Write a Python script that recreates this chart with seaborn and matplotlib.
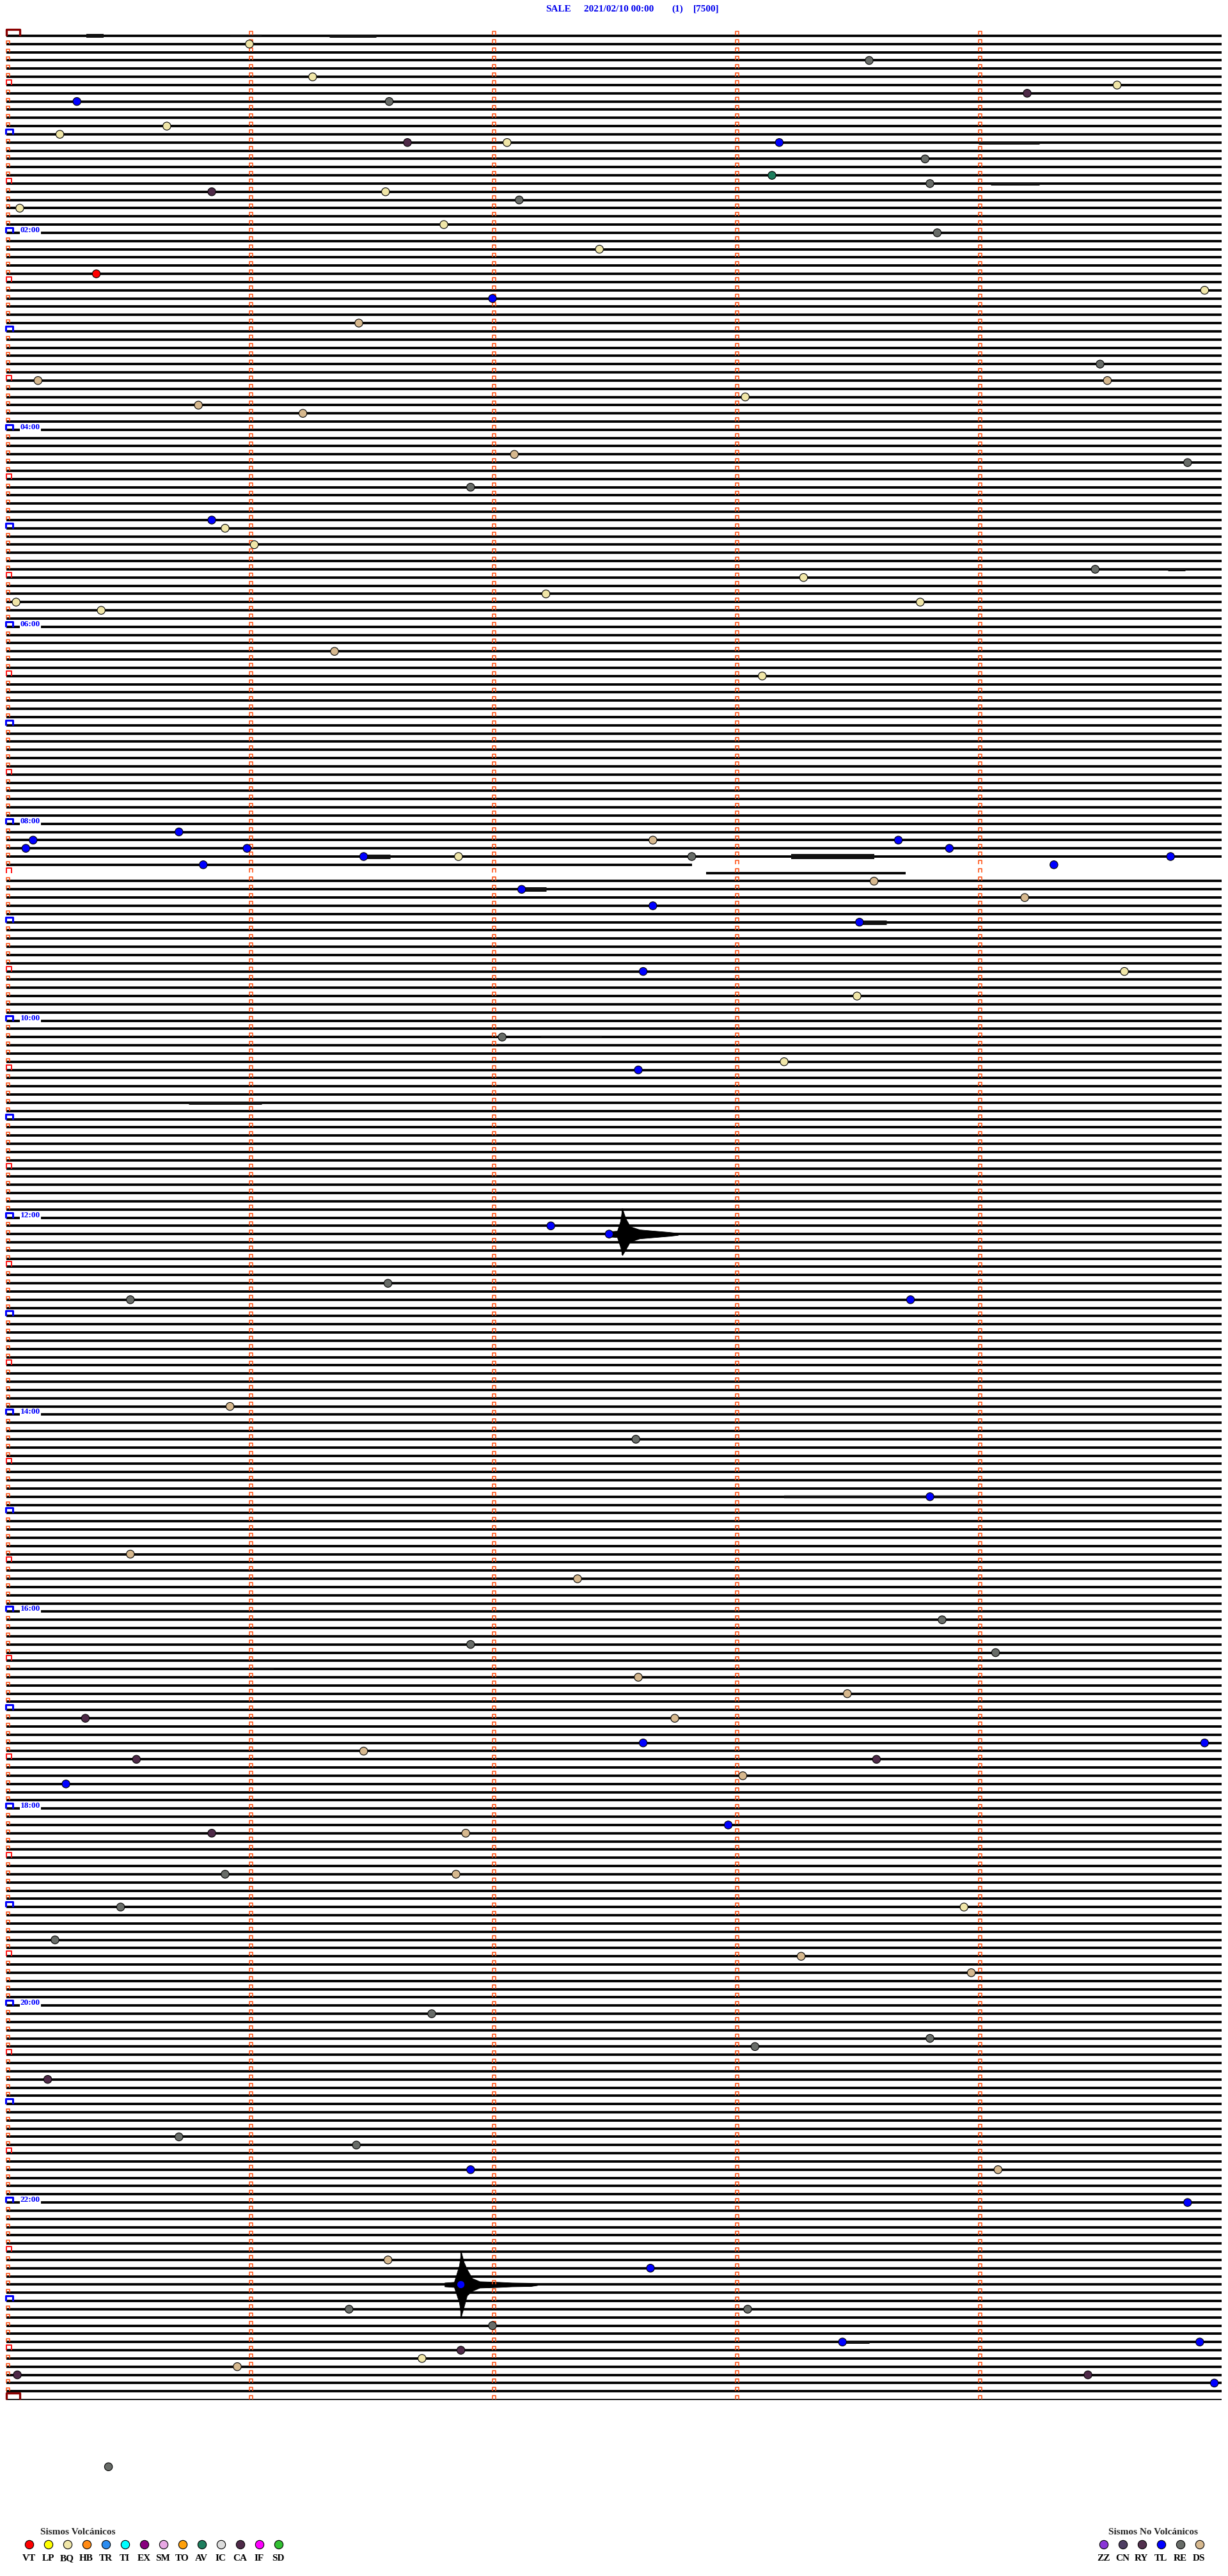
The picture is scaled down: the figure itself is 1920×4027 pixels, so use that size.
import numpy as np
import pandas as pd
import matplotlib
matplotlib.use("Agg")
import matplotlib.pyplot as plt
import seaborn as sns
from matplotlib.collections import LineCollection

# ---------------- data ----------------
station = "SALE"
date_txt = "2021/02/10 00:00"
comp_txt = "(1)"
gain_txt = "[7500]"

minutes_per_row = 5
n_rows = 289                     # 00:00 ... 24:00, one trace every 5 minutes
hour_labels = ["02:00", "04:00", "06:00", "08:00", "10:00", "12:00",
               "14:00", "16:00", "18:00", "20:00", "22:00"]

volc_types = ["VT", "LP", "BQ", "HB", "TR", "TI", "EX", "SM", "TO", "AV", "IC", "CA", "IF", "SD"]
volc_colors = ["#ff0000", "#ffff00", "#f0e6a8", "#ff8a14", "#2a8cf0", "#00ffff", "#88007e",
               "#e8a8e4", "#ffa00a", "#1e7e5e", "#dcdcdc", "#4e2a48", "#ff00ff", "#32c032"]
nonvolc_types = ["ZZ", "CN", "RY", "TL", "RE", "DS"]
nonvolc_colors = ["#8a36d6", "#4e3e62", "#52304e", "#0000ff", "#686c68", "#d6b88e"]

# events: trace row, offset inside the row (minutes), type
ev_row = [1, 3, 5, 8, 7, 8, 6, 11, 12, 13, 13, 13, 15, 17, 18, 19, 19, 20, 21, 23,
          24, 26, 29, 31, 32, 35, 40, 42, 42, 44, 45, 46, 51, 52, 55, 59, 60, 62, 65, 66,
          68, 69, 69, 70, 75, 78, 98, 99, 97, 99, 101, 100, 100, 98, 100, 98, 99, 101, 100, 103,
          104, 106, 105, 108, 114, 114, 117, 122, 125, 126, 145, 146, 152, 154, 154, 167, 171, 178, 185, 188,
          193, 196, 197, 200, 202, 205, 205, 208, 208, 209, 210, 210, 212, 213, 218, 219, 219, 224, 224, 228,
          228, 232, 234, 236, 241, 244, 245, 249, 256, 257, 260, 260, 264, 271, 272, 274, 277, 277, 279, 282,
          283, 284, 281, 281, 285, 285, 286, 296.2]
ev_offset = [1.00, 3.55, 1.26, 0.29, 4.20, 1.575, 4.57, 0.66, 0.22, 1.65, 2.06, 3.18, 3.78, 3.15, 3.80, 0.845, 1.56, 2.11, 0.055, 1.80,
             3.83, 2.44, 0.37, 4.93, 2.00, 1.45, 4.50, 4.53, 0.13, 3.04, 0.79, 1.22, 2.09, 4.86, 1.91, 0.845, 0.90, 1.02, 4.48, 3.28,
             2.22, 3.76, 0.04, 0.39, 1.35, 3.11, 0.11, 0.08, 0.71, 0.99, 0.81, 1.47, 1.86, 2.66, 2.82, 3.67, 3.88, 4.31, 4.79, 3.57,
             2.12, 2.66, 4.19, 3.51, 2.62, 4.60, 3.50, 2.04, 3.20, 2.60, 2.24, 2.48, 1.57, 0.51, 3.72, 0.92, 2.59, 3.80, 0.51, 2.35,
             3.85, 1.91, 4.07, 2.60, 3.46, 0.325, 2.75, 2.62, 4.93, 1.47, 0.535, 3.58, 3.03, 0.245, 2.97, 0.845, 1.89, 0.90, 1.85, 0.47,
             3.94, 0.20, 3.27, 3.97, 1.75, 3.80, 3.08, 0.17, 0.71, 1.44, 1.91, 4.08, 4.86, 1.57, 2.65, 1.87, 1.41, 3.05, 2.00, 1.87,
             1.71, 0.95, 3.44, 4.91, 4.45, 0.045, 4.97, 0.42]
ev_type = ["BQ", "RE", "BQ", "TL", "CA", "RE", "BQ", "BQ", "BQ", "CA", "BQ", "TL", "RE", "AV", "RE", "CA", "BQ", "RE", "BQ", "BQ",
           "RE", "BQ", "VT", "BQ", "TL", "DS", "RE", "DS", "DS", "BQ", "DS", "DS", "DS", "RE", "RE", "TL", "BQ", "BQ", "RE", "BQ",
           "BQ", "BQ", "BQ", "BQ", "DS", "BQ", "TL", "TL", "TL", "TL", "TL", "TL", "BQ", "DS", "RE", "TL", "TL", "TL", "TL", "DS",
           "TL", "TL", "DS", "TL", "TL", "BQ", "BQ", "RE", "BQ", "TL", "TL", "TL", "RE", "RE", "TL", "DS", "RE", "TL", "DS", "DS",
           "RE", "RE", "RE", "DS", "DS", "CA", "DS", "TL", "TL", "DS", "CA", "CA", "DS", "TL", "TL", "CA", "DS", "RE", "DS", "RE",
           "BQ", "RE", "DS", "DS", "RE", "RE", "RE", "CA", "RE", "RE", "TL", "DS", "TL", "DS", "TL", "TL", "RE", "RE", "RE", "CA",
           "BQ", "DS", "TL", "TL", "CA", "CA", "TL", "RE"]

# gaps in the record: rows with only partial traces (row, start, end in minutes)
partial_row = [101, 102]
partial_start = [0.0, 2.88]
partial_end = [2.82, 3.70]

# bursts of higher amplitude (row, start, end, half amplitude of the dense core in px)
burst_row = [0, 0, 0, 13, 18, 65, 100, 100, 104, 108, 122, 130, 178, 199, 281]
burst_start = [0.33, 0.92, 1.33, 4.00, 4.05, 4.78, 1.48, 3.23, 2.13, 3.52, 2.20, 0.75, 3.20, 1.00, 3.45]
burst_end = [0.40, 1.05, 1.52, 4.25, 4.25, 4.85, 1.58, 3.57, 2.22, 3.62, 2.45, 1.05, 4.00, 1.10, 3.55]
burst_amp = [3.0, 2.0, 2.5, 2.5, 2.5, 2.5, 3.5, 4.0, 3.5, 3.5, 2.0, 2.5, 2.2, 2.0, 2.5]

# two large earthquakes: envelope (offset in minutes, px above, px below)
big1_row = 146
big1_x = [2.476, 2.513, 2.526, 2.534, 2.547, 2.566, 2.605, 2.729, 2.763]
big1_up = [4, 5, 20, 40, 25, 12, 7, 3, 1.5]
big1_dn = [4, 5, 20, 33, 25, 12, 7, 3, 1.5]
big2_row = 274
big2_x = [1.803, 1.842, 1.863, 1.871, 1.882, 1.895, 1.916, 1.947, 2.026, 2.079, 2.158, 2.184]
big2_up = [3, 4, 30, 51, 35, 24, 10, 5, 4, 3, 2.5, 1]
big2_dn = [3, 4, 28, 50, 35, 17, 10, 5, 4, 3, 2.5, 1]

# ---------------- geometry ----------------
W, H = 1920, 4027
X0, X1 = 10, 1910           # pixel range of one 5-minute trace
Y0, DY = 56, 12.83          # first trace pixel row, trace spacing
pxx = minutes_per_row / (X1 - X0)   # minutes per pixel
pxy = 1.0 / DY                      # rows per pixel
PT = 0.72                           # points per pixel at 100 dpi
TRACE_PX = 3.8

sns.set_theme(style="white")
plt.rcParams["font.family"] = ["Liberation Serif", "DejaVu Serif"]

fig = plt.figure(figsize=(W / 100, H / 100), dpi=100)
fig.patch.set_facecolor("white")
ax = fig.add_axes([X0 / W, 0, (X1 - X0) / W, 1])
ax.set_xlim(0, minutes_per_row)
ax.set_ylim((H - Y0) / DY, -Y0 / DY)
ax.axis("off")

# ---- traces ----
segs, lws = [], []
for r in range(n_rows):
    if r in partial_row:
        continue
    segs.append([(0, r), (minutes_per_row, r)])
    lws.append(1.3 if r == n_rows - 1 else TRACE_PX * PT)
for r, s, e in zip(partial_row, partial_start, partial_end):
    segs.append([(s, r), (e, r)])
    lws.append(TRACE_PX * PT)
ax.add_collection(LineCollection(segs, colors="black", linewidths=lws, zorder=2, capstyle="butt"))

# bursts
bsegs = [[(s, r), (e, r)] for r, s, e in zip(burst_row, burst_start, burst_end)]
blw = [2 * a * PT for a in burst_amp]
ax.add_collection(LineCollection(bsegs, colors="#111111", linewidths=blw, zorder=2, capstyle="butt"))

# big earthquakes
for row, xs, up, dn in [(big1_row, big1_x, big1_up, big1_dn), (big2_row, big2_x, big2_up, big2_dn)]:
    xs = np.array(xs)
    ax.fill_between(xs, row - np.array(up) * pxy, row + np.array(dn) * pxy, color="black", lw=0.6, zorder=2)
    k = int(np.argmax(up))
    ax.vlines(xs[k], row - up[k] * pxy, row + dn[k] * pxy, color="black", lw=1.5, zorder=2)

# ---- row markers (left brackets) and minute ticks ----
def bracket(x, r, w, h):
    return [(x, r), (x, r - h * pxy), (x + w * pxx, r - h * pxy), (x + w * pxx, r)]

small, red, blue, dred = [], [], [], []
for r in range(n_rows):
    if r == 0 or r == n_rows - 1:
        dred.append(bracket(-0.5 * pxx, r, 21, 10))
    elif r % 12 == 0:
        blue.append(bracket(-1 * pxx, r, 11, 8))
    elif r % 6 == 0:
        red.append(bracket(0, r, 8, 8))
    else:
        small.append(bracket(0, r, 5, 5))
    for m in range(1, minutes_per_row):
        small.append(bracket(m, r - 0.5 * pxy, 5, 6))
ax.add_collection(LineCollection(small, colors="#ff4a0a", linewidths=1.1, zorder=3))
ax.add_collection(LineCollection(red, colors="#ff1010", linewidths=1.4, zorder=3))
ax.add_collection(LineCollection(blue, colors="#0000ff", linewidths=2.2, zorder=3))
ax.add_collection(LineCollection(dred, colors="#8b0000", linewidths=2.4, zorder=3))
for c in ax.collections:
    c.set_clip_on(False)

# hour labels
for i, lab in enumerate(hour_labels):
    r = (i + 1) * 24
    ax.text(22 * pxx, r - 1 * pxy, lab, color="#0000ff", fontsize=9.6, fontweight="bold",
            va="baseline", ha="left", zorder=4,
            bbox=dict(facecolor="white", edgecolor="none", pad=0.6))

# ---- events ----
ev = pd.DataFrame({"row": ev_row, "offset": ev_offset, "type": ev_type})
palette = dict(zip(volc_types + nonvolc_types, volc_colors + nonvolc_colors))
sns.scatterplot(data=ev, x="offset", y="row", hue="type", palette=palette, s=80,
                edgecolor="black", linewidth=0.8, legend=False, ax=ax, zorder=5, clip_on=False)
ax.set_xlim(0, minutes_per_row)
ax.set_ylim((H - Y0) / DY, -Y0 / DY)
ax.axis("off")

# ---- title ----
for txt, x in [(station, 853), (date_txt, 913), (comp_txt, 1050), (gain_txt, 1084)]:
    fig.text(x / W, 1 - 18 / H, txt, color="#0000ee", fontsize=11, fontweight="bold",
             ha="left", va="baseline")

# ---- legend ----
lg = fig.add_axes([0, 0, 1, 1], zorder=-1)
lg.set_xlim(0, W)
lg.set_ylim(H, 0)
lg.axis("off")
leg = pd.DataFrame({
    "x": [46 + 30 * i for i in range(len(volc_types))] + [1726 + 30 * i for i in range(len(nonvolc_types))],
    "y": [3978] * (len(volc_types) + len(nonvolc_types)),
    "type": volc_types + nonvolc_types})
sns.scatterplot(data=leg, x="x", y="y", hue="type", palette=palette, s=92,
                edgecolor="black", linewidth=0.8, legend=False, ax=lg)
lg.set_xlim(0, W)
lg.set_ylim(H, 0)
lg.axis("off")
for x, t in zip(leg["x"], leg["type"]):
    lg.text(x - 1, 4003, t, fontsize=11, fontweight="bold", ha="center", va="baseline", color="black")
lg.text(63, 3962, "Sismos Volcánicos", fontsize=11, fontweight="bold", ha="left", va="baseline")
lg.text(1733, 3962, "Sismos No Volcánicos", fontsize=11, fontweight="bold", ha="left", va="baseline")

fig.savefig("out.png", dpi=100, facecolor="white")
